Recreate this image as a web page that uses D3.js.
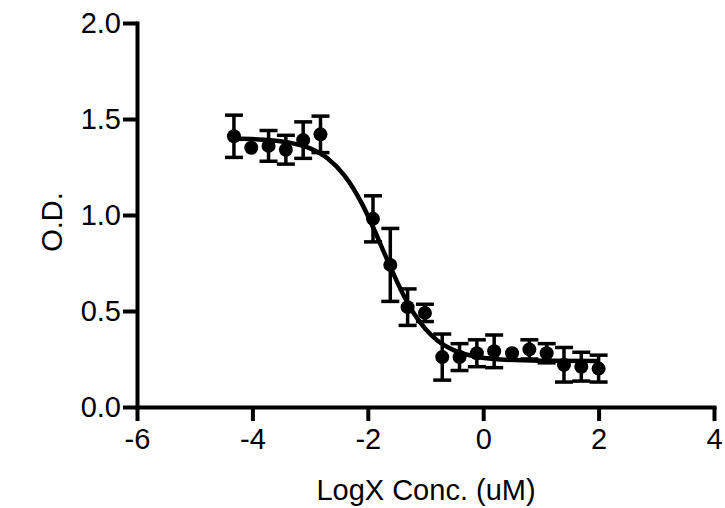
<!DOCTYPE html>
<html>
<head>
<meta charset="utf-8">
<script src="https://cdn.jsdelivr.net/npm/d3@7"></script>
<style>
  body { margin: 0; background: #fff; }
  svg { display: block; font-family: "Liberation Sans", Arial, sans-serif; }
</style>
</head>
<body>
<div id="chart"></div>
<script>
// Dose response, mean +/- error, with fitted curve

let logX = [-4.32, -4.02, -3.72, -3.42, -3.12, -2.82, -1.91, -1.61, -1.31, -1.01,
  -0.71, -0.41, -0.11, 0.19, 0.50, 0.80, 1.10, 1.40, 1.70, 2.00];
let od = [1.41, 1.35, 1.36, 1.34, 1.39, 1.42, 0.98, 0.74, 0.52, 0.49,
  0.26, 0.26, 0.28, 0.29, 0.28, 0.30, 0.28, 0.22, 0.21, 0.20];
let err = [0.11, 0, 0.08, 0.075, 0.095, 0.095, 0.12, 0.19, 0.095, 0.045,
  0.12, 0.07, 0.07, 0.085, 0, 0.05, 0.05, 0.09, 0.075, 0.07];

// fitted curve
let fitX = [-4.32, -3.8, -3.4, -3.0, -2.7, -2.4, -2.1, -1.9, -1.74, -1.6, -1.4,
  -1.2, -1.0, -0.8, -0.5, -0.2, 0.3, 1.0, 2.0];
let fitY = [1.398, 1.392, 1.379, 1.347, 1.296, 1.204, 1.058, 0.931, 0.82, 0.723, 0.594,
  0.487, 0.406, 0.348, 0.295, 0.267, 0.248, 0.2415, 0.24];

let xTicks = [-6, -4, -2, 0, 2, 4];
let yTicks = [0, 0.5, 1.0, 1.5, 2.0];

let width = 725;
let height = 508;
let fontSize = "29px";

let svg = d3.select("#chart").append("svg")
  .attr("width", width)
  .attr("height", height);

let x = d3.scaleLinear().domain([-6, 4]).range([137, 714]);
let y = d3.scaleLinear().domain([0, 2]).range([407, 23]);

// Axes
let xAxis = svg.append("g")
  .attr("transform", `translate(0,${y(0)})`)
  .call(d3.axisBottom(x).tickValues(xTicks).tickSize(14).tickSizeOuter(0).tickPadding(7)
    .tickFormat(d => String(d)));

let yAxis = svg.append("g")
  .attr("transform", `translate(${x(-6)},0)`)
  .call(d3.axisLeft(y).tickValues(yTicks).tickSize(14).tickSizeOuter(0).tickPadding(2)
    .tickFormat(d3.format(".1f")));

[xAxis, yAxis].forEach(g => {
  g.select(".domain").attr("stroke", "#000").attr("stroke-width", 4)
    .attr("stroke-linecap", "square");
  g.selectAll(".tick line").attr("stroke", "#000").attr("stroke-width", 4);
  g.selectAll(".tick text")
    .attr("fill", "#000")
    .style("font-size", fontSize)
    .style("font-family", "'Liberation Sans', Arial, sans-serif");
});

// Axis titles
svg.append("text")
  .attr("x", 426)
  .attr("y", 500)
  .attr("text-anchor", "middle")
  .style("font-size", fontSize)
  .text("LogX Conc. (uM)");

svg.append("text")
  .attr("transform", `translate(62,222) rotate(-90)`)
  .attr("text-anchor", "middle")
  .style("font-size", fontSize)
  .text("O.D.");

// Fitted curve
let line = d3.line()
  .x((d, i) => x(d))
  .y((d, i) => y(fitY[i]))
  .curve(d3.curveMonotoneX);

svg.append("path")
  .attr("d", line(fitX))
  .attr("fill", "none")
  .attr("stroke", "#000")
  .attr("stroke-width", 4.5);

// Points with error bars
let points = logX.map((v, i) => ({ x: v, y: od[i], e: err[i] }));
let capW = 9;

let bars = svg.selectAll("g.bar")
  .data(points.filter(d => d.e > 0))
  .enter()
    .append("g")
    .classed("bar", true)
    .attr("stroke", "#000")
    .attr("stroke-width", 3.5);

bars.append("line")
  .attr("x1", d => x(d.x)).attr("x2", d => x(d.x))
  .attr("y1", d => y(d.y + d.e)).attr("y2", d => y(d.y - d.e));
bars.append("line")
  .attr("x1", d => x(d.x) - capW).attr("x2", d => x(d.x) + capW)
  .attr("y1", d => y(d.y + d.e)).attr("y2", d => y(d.y + d.e));
bars.append("line")
  .attr("x1", d => x(d.x) - capW).attr("x2", d => x(d.x) + capW)
  .attr("y1", d => y(d.y - d.e)).attr("y2", d => y(d.y - d.e));

svg.selectAll("circle.pt")
  .data(points)
  .enter()
    .append("circle")
    .classed("pt", true)
    .attr("cx", d => x(d.x))
    .attr("cy", d => y(d.y))
    .attr("r", 7)
    .attr("fill", "#000");
</script>
</body>
</html>
